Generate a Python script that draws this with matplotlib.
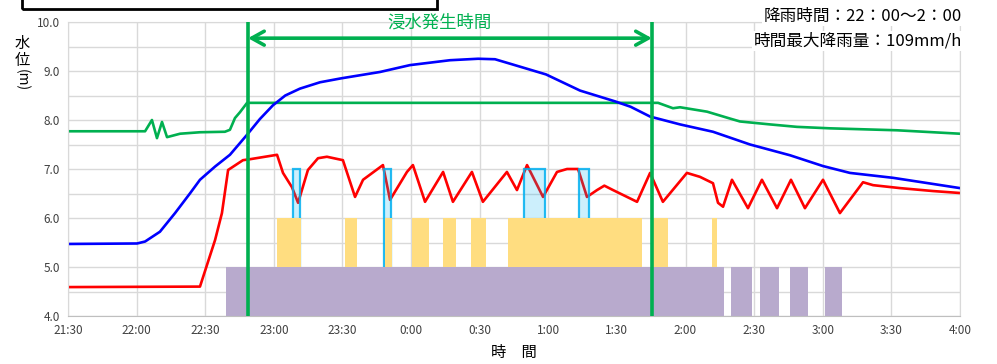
import matplotlib
matplotlib.use("Agg")
import matplotlib.pyplot as plt
from matplotlib.patches import Rectangle

plt.rcParams['font.family'] = ['Noto Sans CJK JP', 'DejaVu Sans']

# minutes counted from 21:30
tick_labels = ["21:30", "22:00", "22:30", "23:00", "23:30", "0:00", "0:30",
               "1:00", "1:30", "2:00", "2:30", "3:00", "3:30", "4:00"]

blue_t = [0, 30.2, 33.7, 40.2, 46.8, 53.3, 57.7, 64.3, 70.8, 78.3, 83.9, 89.6, 95.0, 101.4,
          110.2, 119.4, 136.4, 149.5, 167.0, 179.3, 186.7, 193.2, 209.0, 223.9, 239.2,
          246.0, 254.5, 267.6, 282.0, 298.2, 315.7, 330.1, 341.9, 360.7, 374.7, 390]
blue_v = [5.47, 5.48, 5.52, 5.72, 6.1, 6.5, 6.78, 7.05, 7.29, 7.7, 8.02, 8.3, 8.5, 8.64,
          8.77, 8.85, 8.98, 9.12, 9.22, 9.25, 9.24, 9.15, 8.93, 8.6, 8.38,
          8.27, 8.07, 7.91, 7.76, 7.5, 7.28, 7.06, 6.92, 6.82, 6.72, 6.61]

green_t = [0, 33.7, 36.7, 38.9, 41.1, 43.3, 49.0, 57.7, 68.6, 70.8, 73.0, 75.2, 78.3,
           258.0, 264.5, 267.6, 279.4, 289.4, 293.8, 306.9, 318.7, 333.2, 362.5, 390]
green_v = [7.77, 7.77, 8.0, 7.63, 7.96, 7.65, 7.72, 7.75, 7.76, 7.8, 8.04, 8.16, 8.35,
           8.35, 8.24, 8.26, 8.17, 8.03, 7.97, 7.91, 7.86, 7.83, 7.79, 7.72]

red_t = [0, 57.7, 64.3, 67.3, 70.0, 76.5, 79.6, 91.4, 94.0, 97.9, 100.6, 104.9, 109.3,
         113.2, 120.2, 125.5, 129.0, 137.7, 140.8, 148.2, 150.8, 156.1, 164.0, 168.3,
         176.6, 181.4, 191.9, 196.3, 200.7, 207.7, 213.8, 218.2, 223.0, 226.9, 231.3,
         234.5, 238.3, 248.8, 254.5, 260.1, 270.6, 276.3, 282.0, 284.2, 286.4, 290.3,
         297.3, 303.4, 310.0, 316.1, 322.2, 330.1, 337.5, 347.6, 352.0, 363.8, 378.2, 390]
red_v = [4.59, 4.6, 5.55, 6.1, 6.98, 7.18, 7.2, 7.29, 6.92, 6.63, 6.31, 6.98, 7.22,
         7.25, 7.18, 6.43, 6.78, 7.08, 6.37, 6.94, 7.08, 6.33, 6.94, 6.33,
         6.94, 6.33, 6.94, 6.57, 7.08, 6.43, 6.94, 7.0, 7.0, 6.43, 6.57,
         6.66, 6.57, 6.33, 6.92, 6.33, 6.92, 6.84, 6.71, 6.31, 6.23, 6.78,
         6.2, 6.78, 6.2, 6.78, 6.2, 6.78, 6.1, 6.73, 6.67, 6.61, 6.55, 6.51]

# on/off periods (start, end) in minutes and the level they reach
purple_spans = [(69, 287), (290, 299), (302.6, 311), (315.7, 323.5), (331, 338.4)]
yellow_spans = [(91.4, 101.9), (121.1, 126.4), (138.6, 141.7), (150.4, 157.8),
                (164, 169.6), (176.2, 182.8), (192.4, 251), (255.8, 262.3), (281.6, 283.8)]
blue_spans = [(98.4, 101.4), (138.2, 141.2), (199.4, 208.6), (223.4, 227.8)]
purple_top, yellow_top, blue_top = 5.0, 6.0, 7.0

flood_start, flood_end = 78.7, 255.3

W, H = 997, 364
fig = plt.figure(figsize=(W / 100, H / 100), dpi=100)
ax = fig.add_axes([68 / W, 1 - 316 / H, (960 - 68) / W, (316 - 22) / H])

GREEN = "#00b050"

ax.plot(red_t, red_v, color="#ff0000", lw=1.9, zorder=1.8)
ax.plot(green_t, green_v, color=GREEN, lw=1.9, zorder=1.8)
ax.plot(blue_t, blue_v, color="#0000ff", lw=1.9, zorder=1.8)

for s, e in blue_spans:
    ax.bar(s, blue_top - 4.0, width=e - s, bottom=4.0, align="edge",
           facecolor=(0.0, 0.69, 0.94, 0.2), edgecolor=(0.0, 0.69, 0.94, 0.85),
           lw=1.6, zorder=2.0)
for s, e in yellow_spans:
    ax.bar(s, yellow_top - 4.0, width=e - s, bottom=4.0, align="edge",
           color="#ffdd80", lw=0, zorder=2.1)
for s, e in purple_spans:
    ax.bar(s, purple_top - 4.0, width=e - s, bottom=4.0, align="edge",
           color="#b8aacd", lw=0, zorder=2.2)

# flood period markers
ax.axvline(flood_start, color=GREEN, lw=2.6, zorder=5)
ax.axvline(flood_end, color=GREEN, lw=2.6, zorder=5)
ax.annotate("", xy=(flood_start, 9.67), xytext=(flood_end, 9.67),
            arrowprops=dict(arrowstyle="<->,head_length=0.9,head_width=0.5",
                            color=GREEN, lw=2.6, shrinkA=0, shrinkB=0), zorder=6)
ax.text(162.6, 9.98, "浸水発生時間", color=GREEN,
        fontsize=12.5, ha="center", va="center", zorder=6)

ax.set_xlim(0, 390)
ax.set_ylim(4.0, 10.0)
ax.set_xticks(range(0, 391, 30))
ax.set_xticklabels(tick_labels)
ax.set_yticks([4, 5, 6, 7, 8, 9, 10])
ax.set_yticklabels(["4.0", "5.0", "6.0", "7.0", "8.0", "9.0", "10.0"])
ax.set_yticks([4.5, 5.5, 6.5, 7.5, 8.5, 9.5], minor=True)
ax.grid(True, which="both", color="#d9d9d9", lw=1, zorder=0.5)
ax.set_axisbelow(True)
ax.tick_params(which="both", length=0, labelsize=8.5, labelcolor="#404040")
ax.tick_params(axis="y", pad=6)
ax.tick_params(axis="x", pad=6)
for sp in ax.spines.values():
    sp.set_color("#d9d9d9")
ax.spines["bottom"].set_color("#bfbfbf")

ax.set_xlabel("時　間", fontsize=11, labelpad=5)

# y-axis label stacked vertically
fig.text(22 / W, 1 - 52 / H, "水\n位", fontsize=11, ha="center", va="center",
         linespacing=0.95)
fig.text(22 / W, 1 - 80 / H, "(m)", fontsize=10, ha="center", va="center", rotation=270)

# rainfall notes
fig.text(962 / W, 1 - 16 / H, "降雨時間：22：00～2：00", fontsize=12, ha="right",
         va="center", bbox=dict(facecolor="white", edgecolor="none", pad=1))
fig.text(962 / W, 1 - 41 / H, "時間最大降雨量：109mm/h", fontsize=12, ha="right",
         va="center", bbox=dict(facecolor="white", edgecolor="none", pad=1))

# title box cut off at the top edge
fig.patches.append(Rectangle((22 / W, 1 - 9 / H), (437 - 22) / W, 30 / H,
                             transform=fig.transFigure, fill=False, lw=2,
                             edgecolor="black"))

fig.savefig("out.png", dpi=100)
